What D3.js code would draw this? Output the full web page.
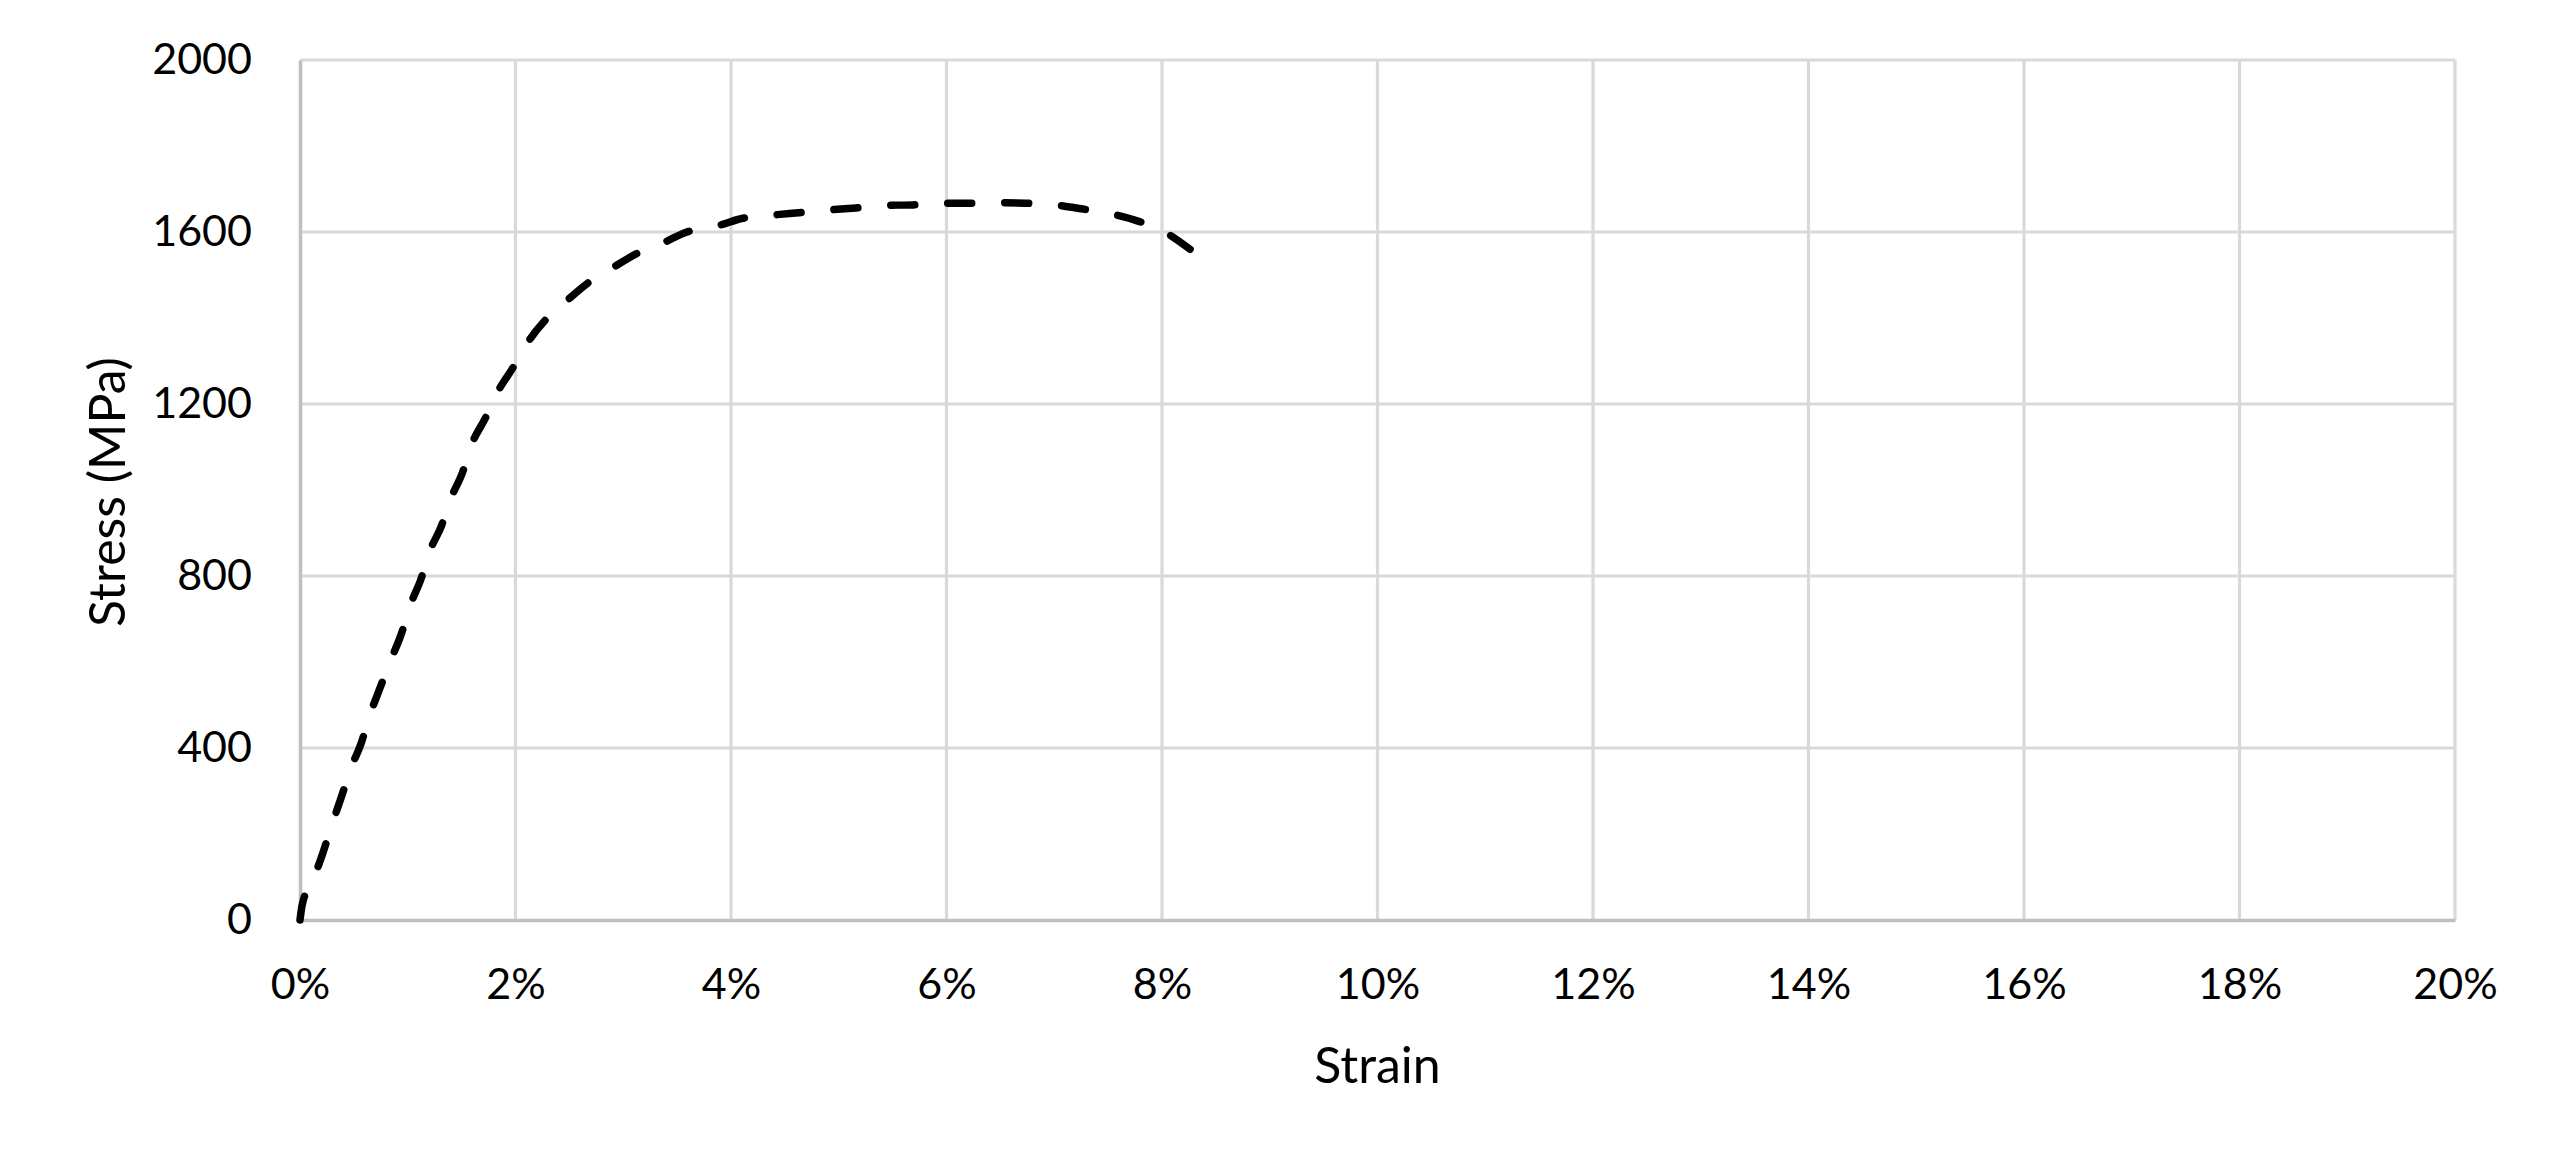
<!DOCTYPE html>
<html>
<head>
<meta charset="utf-8">
<script src="https://cdn.jsdelivr.net/npm/d3@7"></script>
<style>
  html, body { margin: 0; padding: 0; background: #ffffff; }
  svg { display: block; }
  text { font-family: Lato, "Open Sans", sans-serif; fill: #000; }
</style>
</head>
<body>
<svg id="chart" width="2560" height="1166"></svg>
<script>
// ---- data ----
const strain = [0, 0.0002, 0.0012, 0.0021, 0.0029, 0.0038, 0.0047, 0.0057, 0.0065, 0.0074, 0.0084, 0.0094,
  0.0102, 0.0112, 0.0120, 0.0131, 0.0140, 0.0151, 0.0159, 0.0172, 0.0183, 0.0198, 0.0211, 0.0228,
  0.0247, 0.0267, 0.0289, 0.0312, 0.0338, 0.0359, 0.0387, 0.0411, 0.0437, 0.0463, 0.0490, 0.0516,
  0.0542, 0.0569, 0.0596, 0.0620, 0.0648, 0.0673, 0.0700, 0.0725, 0.0753, 0.0777, 0.0801, 0.0826];
const stress = [0, 35, 93, 154, 217, 283, 351, 413, 478, 538, 603, 665,
  730, 791, 855, 915, 980, 1042, 1104, 1167, 1226, 1286, 1342, 1396,
  1439, 1481, 1515, 1549, 1576, 1600, 1614, 1632, 1639, 1645, 1651, 1656,
  1662, 1663, 1667, 1667, 1668, 1667, 1663, 1654, 1642, 1626, 1602, 1560];
const xTicks = [0, 0.02, 0.04, 0.06, 0.08, 0.10, 0.12, 0.14, 0.16, 0.18, 0.20];
const yTicks = [0, 400, 800, 1200, 1600, 2000];
const xTitle = "Strain";
const yTitle = "Stress (MPa)";

// ---- layout ----
const L = 300, R = 2455, T = 60, B = 920;
const svg = d3.select("#chart");
const x = d3.scaleLinear().domain([0, 0.20]).range([L, R]);
const y = d3.scaleLinear().domain([0, 2000]).range([B, T]);

// gridlines
const grid = svg.append("g");
grid.selectAll("line.h").data(yTicks.filter(d => d > 0)).enter().append("line")
  .attr("x1", L).attr("x2", R).attr("y1", d => y(d)).attr("y2", d => y(d))
  .attr("stroke", "#d9d9d9").attr("stroke-width", 3.2);
grid.selectAll("line.v").data(xTicks.filter(d => d > 0)).enter().append("line")
  .attr("y1", T).attr("y2", B).attr("x1", d => x(d)).attr("x2", d => x(d))
  .attr("stroke", "#d9d9d9").attr("stroke-width", 3.2);

// axes
const fs = 43;
const xAxis = svg.append("g").attr("transform", `translate(0,${B})`)
  .call(d3.axisBottom(x).tickValues(xTicks).tickSize(0).tickPadding(48)
    .tickFormat(d => Math.round(d * 100) + "%"));
xAxis.select(".domain").attr("stroke", "#bfbfbf").attr("stroke-width", 3.6);
xAxis.selectAll("text").style("font-size", fs + "px").attr("fill", "#000");

const yAxis = svg.append("g").attr("transform", `translate(${L},0)`)
  .call(d3.axisLeft(y).tickValues(yTicks).tickSize(0).tickPadding(48).tickFormat(d3.format("d")));
yAxis.select(".domain").attr("stroke", "#bfbfbf").attr("stroke-width", 3.6);
yAxis.selectAll("text").style("font-size", fs + "px").attr("fill", "#000");

// titles
svg.append("text").attr("x", (L + R) / 2).attr("y", 1083)
  .attr("text-anchor", "middle").style("font-size", "50px").text(xTitle);
svg.append("text").attr("transform", `translate(125,${(T + B) / 2 + 2}) rotate(-90)`)
  .attr("text-anchor", "middle").style("font-size", "50px").text(yTitle);

// curve
const pts = strain.map((s, i) => [s, stress[i]]);
const line = d3.line().x(d => x(d[0])).y(d => y(d[1])).curve(d3.curveMonotoneX);
svg.append("path").datum(pts).attr("d", line)
  .attr("fill", "none").attr("stroke", "#000").attr("stroke-width", 7.5)
  .attr("stroke-linecap", "round").attr("stroke-dasharray", "24 33");
</script>
</body>
</html>
